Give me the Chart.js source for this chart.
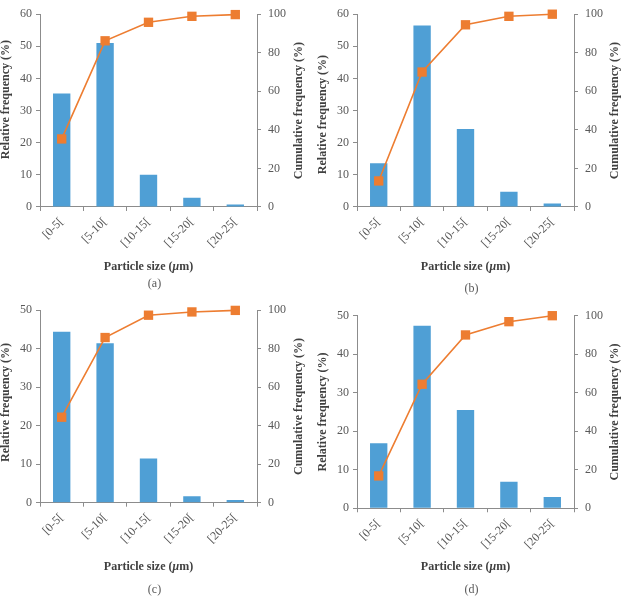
<html>
<head>
<meta charset="UTF-8" />
<script src="https://cdn.jsdelivr.net/npm/chart.js"></script>
<title>Particle size distribution</title>
<style>
  body { margin: 0; padding: 0; background: #ffffff; }
  .panel { position: absolute; }
</style>
<script>
// size classes (x axis)
var sizeClasses = ["[0-5[", "[5-10[", "[10-15[", "[15-20[", "[20-25["];

// relative frequency (%) per panel
var relA = [35.3, 51.0, 10.0, 2.9, 0.8];
var relB = [13.6, 56.5, 24.3, 4.7, 1.1];
var relC = [44.4, 41.4, 11.5, 1.7, 0.7];
var relD = [16.9, 47.4, 25.5, 6.9, 2.9];

// cumulative frequency (%) per panel
var cumA = [35.3, 86.2, 95.8, 98.9, 99.8];
var cumB = [13.5, 70.0, 94.5, 98.9, 100];
var cumC = [44.4, 85.8, 97.4, 99.1, 99.9];
var cumD = [16.8, 64.4, 90.0, 96.9, 100];

// left axis maxima
var relMax = { a: 60, b: 60, c: 50, d: 50 };

var serif = "'Liberation Serif', 'DejaVu Serif', serif";
var axisGray = "#8c8c8c";
var tickGray = "#595959";
var titleGray = "#404040";

// y titles drawn by hand (right one reads bottom-to-top like the left one),
// x title redrawn so the mu can be italic
var handTitles = {
    id: "handTitles",
    afterDraw(chart, args, opts) {
        var ctx = chart.ctx;
        var area = chart.chartArea;
        var midY = (area.top + area.bottom) / 2;
        var midX = (area.left + area.right) / 2;
        var bold = "bold 12px " + serif;
        var boldIt = "italic bold 12px " + serif;
        ctx.save();
        ctx.fillStyle = titleGray;
        ctx.font = bold;
        ctx.textAlign = "center";
        ctx.textBaseline = "middle";

        ctx.save();
        ctx.translate(opts.leftX, midY + opts.leftShift);
        ctx.rotate(-Math.PI / 2);
        ctx.fillText("Relative frequency (%)", 0, 0);
        ctx.restore();

        ctx.save();
        ctx.translate(opts.rightX, midY);
        ctx.rotate(-Math.PI / 2);
        ctx.fillText("Cumulative frequency (%)", 0, 0);
        ctx.restore();

        // x title in three runs
        var parts = [["Particle size (", bold], ["\u03bc", boldIt], ["m)", bold]];
        var total = 0;
        parts.forEach(function (p) { ctx.font = p[1]; total += ctx.measureText(p[0]).width; });
        var x = midX - total / 2;
        var y = chart.scales.x.bottom - 7.2;
        ctx.textAlign = "left";
        parts.forEach(function (p) {
            ctx.font = p[1];
            ctx.fillText(p[0], x, y);
            x += ctx.measureText(p[0]).width;
        });
        ctx.restore();
    },
};

function makeChart(id, caption, rel, cum, yMax, lay) {
    var gridStyle = {
        drawOnChartArea: false,
        drawTicks: true,
        tickLength: 4,
        color: axisGray,
        lineWidth: 1,
    };
    var config = {
        data: {
            labels: sizeClasses,
            datasets: [
                {
                    type: "line",
                    label: "Cumulative frequency",
                    data: cum,
                    yAxisID: "yR",
                    borderColor: "#ed7d31",
                    backgroundColor: "#ed7d31",
                    borderWidth: 1.6,
                    pointStyle: "rect",
                    pointRadius: 6.6,
                    pointBorderWidth: 0,
                    clip: false,
                    order: 0,
                },
                {
                    type: "bar",
                    label: "Relative frequency",
                    data: rel,
                    yAxisID: "yL",
                    backgroundColor: "#4f9fd5",
                    borderWidth: 0,
                    categoryPercentage: 1,
                    barPercentage: 0.4,
                    order: 1,
                },
            ],
        },
        options: {
            responsive: false,
            animation: false,
            layout: { padding: { top: lay.top, left: 16, right: 14, bottom: lay.bottom } },
            plugins: {
                legend: { display: false },
                tooltip: { enabled: false },
                title: {
                    display: true,
                    position: "bottom",
                    text: caption,
                    color: tickGray,
                    font: { family: serif, size: 12, weight: "normal" },
                    padding: { top: lay.capPad, bottom: 0 },
                },
                handTitles: { leftX: 6, rightX: lay.rightX, leftShift: lay.leftShift },
            },
            scales: {
                x: {
                    grid: { ...gridStyle, offset: true },
                    border: { display: true, color: axisGray },
                    ticks: {
                        color: tickGray,
                        font: { family: serif, size: 12 },
                        minRotation: 45,
                        maxRotation: 45,
                        padding: 4,
                    },
                    // kept only to reserve the space; the text is painted by handTitles
                    title: {
                        display: true,
                        text: "Particle size (\u03bcm)",
                        color: "rgba(0,0,0,0)",
                        font: { family: serif, size: 12, weight: "bold" },
                        padding: { top: lay.titlePad, bottom: 0 },
                    },
                },
                yL: {
                    position: "left",
                    min: 0,
                    max: yMax,
                    grid: gridStyle,
                    border: { display: true, color: axisGray },
                    ticks: {
                        stepSize: 10,
                        color: tickGray,
                        font: { family: serif, size: 12 },
                        padding: 4,
                    },
                },
                yR: {
                    position: "right",
                    min: 0,
                    max: 100,
                    grid: gridStyle,
                    border: { display: true, color: axisGray },
                    ticks: {
                        stepSize: 20,
                        color: tickGray,
                        font: { family: serif, size: 12 },
                        padding: 7,
                    },
                },
            },
        },
        plugins: [handTitles],
    };
    return new Chart(document.getElementById(id), config);
}
</script>
</head>
<body>
    <canvas id="chartA" class="panel" width="307" height="296" style="left: 0px; top: 0px;"></canvas>
    <canvas id="chartB" class="panel" width="307" height="296" style="left: 317px; top: 0px;"></canvas>
    <canvas id="chartC" class="panel" width="307" height="301" style="left: 0px; top: 296px;"></canvas>
    <canvas id="chartD" class="panel" width="307" height="301" style="left: 317px; top: 296px;"></canvas>
    <script>
        makeChart("chartA", "(a)", relA, cumA, relMax.a, { top: 10, bottom: 5, titlePad: 5.6, capPad: 2, leftShift: -11, rightX: 299 });
        makeChart("chartB", "(b)", relB, cumB, relMax.b, { top: 10, bottom: 0, titlePad: 5.6, capPad: 7, leftShift: 4, rightX: 298 });
        makeChart("chartC", "(c)", relC, cumC, relMax.c, { top: 10, bottom: 0, titlePad: 9.9, capPad: 8, leftShift: -4, rightX: 299 });
        makeChart("chartD", "(d)", relD, cumD, relMax.d, { top: 19.7, bottom: 0, titlePad: 4.3, capPad: 8, leftShift: 0, rightX: 298 });
    </script>
</body>
</html>
